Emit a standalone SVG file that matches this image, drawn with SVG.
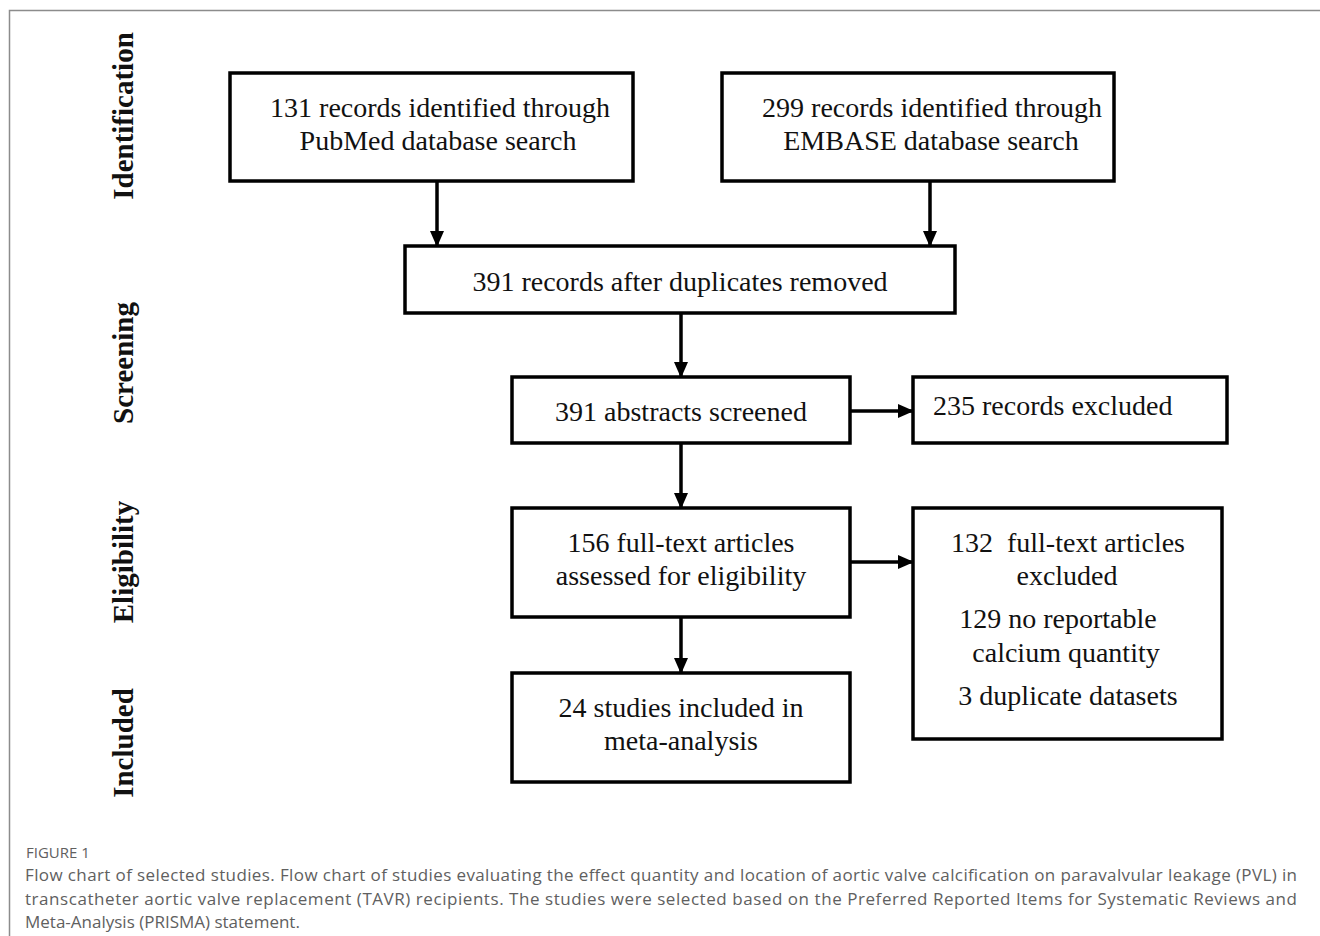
<svg xmlns="http://www.w3.org/2000/svg" width="1320" height="936" viewBox="0 0 1320 936">
<defs>
<marker id="ah" markerUnits="userSpaceOnUse" markerWidth="16" markerHeight="16" viewBox="0 0 16 16" refX="15" refY="8" orient="auto">
<path d="M0,1 L16,8 L0,15 Z" fill="#000"/>
</marker>
<style>
.box{fill:#fff;stroke:#000;stroke-width:3.5}
.t{font-family:"Liberation Serif","Times New Roman",serif;font-size:28px;fill:#111;text-anchor:middle}
.ts{font-family:"Liberation Serif","Times New Roman",serif;font-size:28px;fill:#111}
.sec{font-family:"Liberation Serif","Times New Roman",serif;font-size:29px;font-weight:bold;fill:#111;text-anchor:middle}
.con{stroke:#000;stroke-width:3.5;fill:none;marker-end:url(#ah)}
.cap{font-family:"Open Sans",Lato,sans-serif;font-size:17px;fill:#606060}
.fig{font-family:"Open Sans",Lato,sans-serif;font-size:15px;fill:#606060}
</style>
</defs>
<rect width="1320" height="936" fill="#fff"/>
<path d="M1320,10.5 H9.5 V936" fill="none" stroke="#8c8c8c" stroke-width="1.5"/>

<g id="sections">
<text class="sec" transform="translate(133,116) rotate(-90)">Identification</text>
<text class="sec" transform="translate(133,363) rotate(-90)">Screening</text>
<text class="sec" transform="translate(133,562) rotate(-90)">Eligibility</text>
<text class="sec" transform="translate(133,743) rotate(-90)">Included</text>
</g>

<g id="connectors">
<line class="con" x1="437" y1="181" x2="437" y2="246"/>
<line class="con" x1="930" y1="181" x2="930" y2="246"/>
<line class="con" x1="681" y1="313" x2="681" y2="377"/>
<line class="con" x1="850" y1="411" x2="913" y2="411"/>
<line class="con" x1="681" y1="443" x2="681" y2="508"/>
<line class="con" x1="850" y1="562" x2="913" y2="562"/>
<line class="con" x1="681" y1="617" x2="681" y2="673"/>
</g>

<g id="pubmed">
<rect class="box" x="230" y="73" width="403" height="108"/>
<text class="t" x="440" y="117">131 records identified through</text>
<text class="t" x="438" y="150">PubMed database search</text>
</g>
<g id="embase">
<rect class="box" x="722" y="73" width="392" height="108"/>
<text class="t" x="932" y="117">299 records identified through</text>
<text class="t" x="931" y="150">EMBASE database search</text>
</g>
<g id="dedup">
<rect class="box" x="405" y="246" width="550" height="67"/>
<text class="t" x="680" y="291">391 records after duplicates removed</text>
</g>
<g id="screened">
<rect class="box" x="512" y="377" width="338" height="66"/>
<text class="t" x="681" y="421">391 abstracts screened</text>
</g>
<g id="excluded1">
<rect class="box" x="913" y="377" width="314" height="66"/>
<text class="ts" x="933" y="415">235 records excluded</text>
</g>
<g id="fulltext">
<rect class="box" x="512" y="508" width="338" height="109"/>
<text class="t" x="681" y="552">156 full-text articles</text>
<text class="t" x="681" y="585">assessed for eligibility</text>
</g>
<g id="excluded2">
<rect class="box" x="913" y="508" width="309" height="231"/>
<text class="t" x="1068" y="552" xml:space="preserve">132  full-text articles</text>
<text class="t" x="1067" y="585">excluded</text>
<text class="t" x="1058" y="628">129 no reportable</text>
<text class="t" x="1066" y="662">calcium quantity</text>
<text class="t" x="1068" y="705">3 duplicate datasets</text>
</g>
<g id="included">
<rect class="box" x="512" y="673" width="338" height="109"/>
<text class="t" x="681" y="717">24 studies included in</text>
<text class="t" x="681" y="750">meta-analysis</text>
</g>

<g id="caption">
<text class="fig" x="26" y="858">FIGURE 1</text>
<text class="cap" x="25" y="881" textLength="1272" lengthAdjust="spacing">Flow chart of selected studies. Flow chart of studies evaluating the effect quantity and location of aortic valve calcification on paravalvular leakage (PVL) in</text>
<text class="cap" x="25" y="905" textLength="1272" lengthAdjust="spacing">transcatheter aortic valve replacement (TAVR) recipients. The studies were selected based on the Preferred Reported Items for Systematic Reviews and</text>
<text class="cap" x="25" y="928">Meta-Analysis (PRISMA) statement.</text>
</g>
</svg>
